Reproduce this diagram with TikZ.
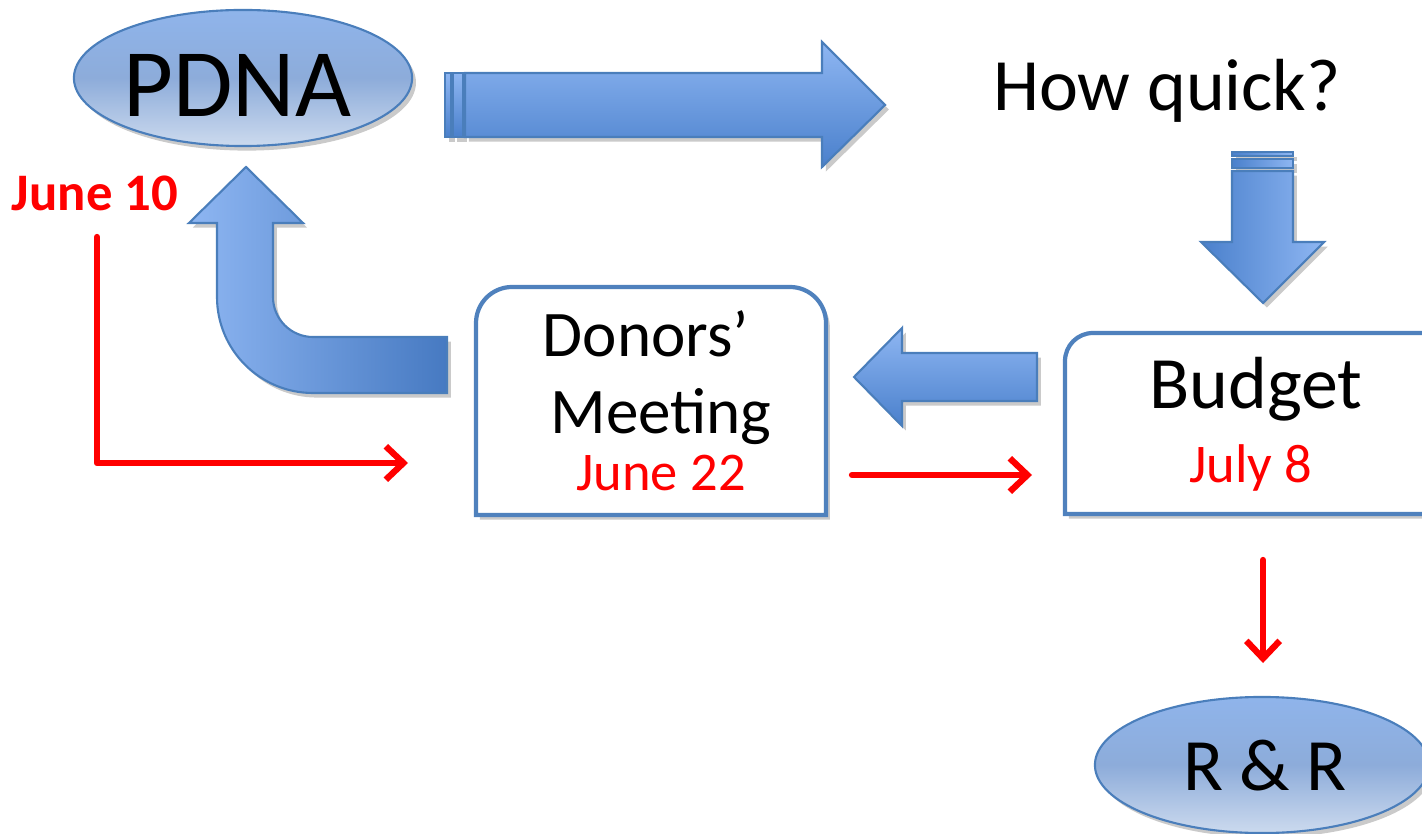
\documentclass[tikz,border=0pt]{standalone}
\usepackage{fontspec}
\setmainfont{Carlito}
\usetikzlibrary{shapes.geometric,arrows.meta,shadows}

\definecolor{edgeblue}{HTML}{4A7EBB}
\definecolor{lightblue}{HTML}{8EB6F2}
\definecolor{darkblue}{HTML}{4A80CC}
\definecolor{elltop}{HTML}{8FB4EB}
\definecolor{ellmid}{HTML}{8DACDA}
\definecolor{ellbot}{HTML}{CCDAEE}
\definecolor{boxblue}{HTML}{4F81BD}

\tikzset{
  softshadow/.style={drop shadow={shadow xshift=1.1pt, shadow yshift=-1.3pt, fill=black!35, opacity=.6}},
  blocktb/.style={draw=edgeblue, line width=.6pt, top color=lightblue, bottom color=darkblue, softshadow},
  blockrl/.style={draw=edgeblue, line width=.6pt, left color=darkblue, right color=lightblue, softshadow},
  blocklr/.style={draw=edgeblue, line width=.6pt, left color=lightblue, right color=darkblue!95!black, softshadow},
  blob/.style={ellipse, draw=edgeblue, line width=.6pt, top color=elltop, bottom color=ellbot, middle color=ellmid, softshadow},
  datebox/.style={draw=boxblue, line width=1.2pt, fill=white, softshadow},
  redarrow/.style={draw=red, line width=1.8pt, -{Straight Barb[length=5pt, width=9.5pt]}, line cap=round, line join=round},
  hugetext/.style={font=\fontsize{27.5}{32}\selectfont},
  bigtext/.style={font=\fontsize{21}{25}\selectfont},
  boxtext/.style={font=\fontsize{18.5}{22}\selectfont},
  datetext/.style={font=\fontsize{15.5}{18}\selectfont, text=red},
}

\begin{document}
\begin{tikzpicture}[x=0.01cm, y=-0.01cm]
  \useasboundingbox (0,0) rectangle (1422,834);
  \clip (0,0) rectangle (1422,834);

  % ellipses
  \node[blob, minimum width=3.38cm, minimum height=1.36cm] (pdna) at (243,78) {};
  \node[hugetext, anchor=base] (pdnalabel) at (237,117) {PDNA};
  \node[blob, minimum width=3.34cm, minimum height=1.36cm] (rr) at (1262,765) {};
  \node[bigtext, anchor=base] (rrlabel) at (1265,790) {R \& R};

  % arrow to the right
  \foreach \a/\b in {445/451, 453/463} \path[blocktb] (\a,73) rectangle (\b,137);
  \path[blocktb] (465,73) -- (822,73) -- (822,42) -- (885,105) -- (822,167) -- (822,137) -- (465,137) -- cycle;
  \node[bigtext, anchor=base] (quick) at (1167,111) {How quick?};

  % arrow down
  \foreach \a/\b in {152/156, 159/168} \path[blockrl] (1232,\a) rectangle (1293,\b);
  \path[blockrl] (1232,171) -- (1293,171) -- (1293,242) -- (1324,242) -- (1263,303) -- (1201,242) -- (1232,242) -- cycle;

  % boxes
  \path[datebox] (476,515) -- (476,323) arc[start angle=180, end angle=270, radius=36] -- (790,287)
    arc[start angle=270, end angle=360, radius=36] -- (826,515) -- cycle;
  \node[boxtext, anchor=base] (donors) at (646,357) {Donors’};
  \node[boxtext, anchor=base] (meeting) at (661,434) {Meeting};
  \node[datetext, anchor=base] (june22) at (661,491) {June 22};

  \path[datebox] (1065,514) -- (1065,361) arc[start angle=180, end angle=270, radius=28] -- (1440,333) -- (1440,514) -- cycle;
  \node[bigtext, anchor=base] (budget) at (1256,409) {Budget};
  \node[datetext, anchor=base] (july8) at (1251,483) {July 8};

  % arrow back to the left
  \path[blocktb] (1037,353) -- (902,353) -- (902,328) -- (854,377) -- (902,426) -- (902,401) -- (1037,401) -- cycle;

  % bent arrow up to PDNA
  \path[blocklr] (217,223) -- (217,297) arc[start angle=180, end angle=90, radius=96] -- (447,393) -- (447,337)
    -- (313,337) arc[start angle=90, end angle=180, radius=40] -- (273,223) -- (303,223) -- (246,167) -- (189,223) -- cycle;

  % red dates
  \node[datetext, font=\fontsize{15}{18}\selectfont\bfseries, anchor=base] (june10) at (95,211) {June 10};
  \coordinate (l0) at (97,237);
  \coordinate (l1) at (408,463);
  \coordinate (m0) at (852,475);
  \coordinate (m1) at (1032,475);
  \coordinate (b0) at (1263,560);
  \coordinate (b1) at (1263,663);
  \draw[redarrow] (l0) |- (l1);
  \draw[redarrow] (m0) -- (m1);
  \draw[redarrow] (b0) -- (b1);
\end{tikzpicture}
\end{document}
